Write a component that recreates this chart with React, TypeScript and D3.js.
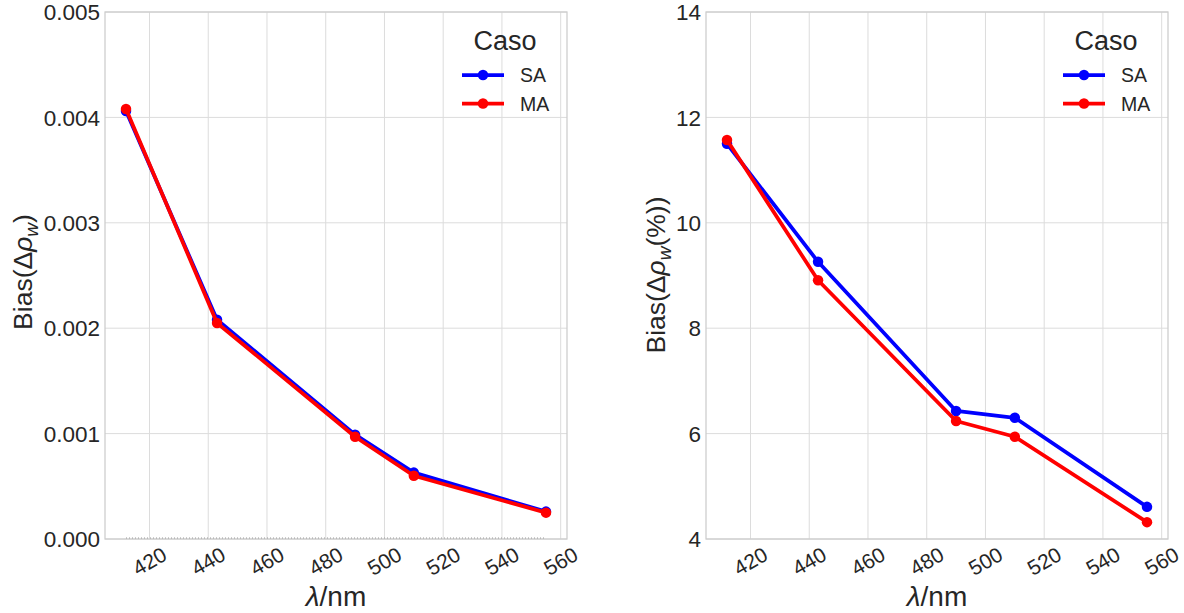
import React from "react";
import * as d3 from "d3";

const wavelengths = [412, 443, 490, 510, 555];
const biasSA = [0.00406, 0.00208, 0.00099, 0.00063, 0.00026];
const biasMA = [0.00408, 0.00205, 0.00097, 0.0006, 0.00025];
const pctSA = [11.5, 9.26, 6.43, 6.3, 4.61];
const pctMA = [11.57, 8.91, 6.24, 5.94, 4.32];
const xTicks = [420, 440, 460, 480, 500, 520, 540, 560];
const yTicksLeft = [0, 0.001, 0.002, 0.003, 0.004, 0.005];
const yTicksRight = [4, 6, 8, 10, 12, 14];
const seriesNames = ["SA", "MA"];
const seriesColors = ["#0000ff", "#ff0000"];

const FONT = "'Liberation Sans', Arial, sans-serif";
const TXT = "#262626";
const GRID = "#dcdcdc";
const SPINE = "#cccccc";

type PanelProps = {
  x0: number;
  yDomain: [number, number];
  yTicks: number[];
  fmt: (v: number) => string;
  sa: number[];
  ma: number[];
  ylabel: React.ReactNode;
  ylabelX: number;
  ylabelY: number;
  zeroLine?: boolean;
};

function Panel({ x0, yDomain, yTicks, fmt, sa, ma, ylabel, ylabelX, ylabelY, zeroLine }: PanelProps) {
  const left = x0;
  const right = x0 + 462;
  const top = 12;
  const bottom = 539;
  const xMin = d3.min(wavelengths)!;
  const xMax = d3.max(wavelengths)!;
  const pad = (xMax - xMin) * 0.05;
  const x = d3.scaleLinear().domain([xMin - pad, xMax + pad]).range([left, right]);
  const y = d3.scaleLinear().domain(yDomain).range([bottom, top]);
  const line = d3
    .line<number>()
    .x((_, i) => x(wavelengths[i]))
    .y((d) => y(d));
  const series = [sa, ma];
  const legX = right - 105;
  return (
    <g>
      {xTicks.map((t) => (
        <line key={"gx" + t} x1={x(t)} x2={x(t)} y1={top} y2={bottom} stroke={GRID} strokeWidth={1} />
      ))}
      {yTicks.map((t) => (
        <line key={"gy" + t} x1={left} x2={right} y1={y(t)} y2={y(t)} stroke={GRID} strokeWidth={1} />
      ))}
      <rect x={left} y={top} width={right - left} height={bottom - top} fill="none" stroke={SPINE} strokeWidth={1.25} />
      {zeroLine && (
        <line
          x1={x(xMin)}
          x2={x(xMax)}
          y1={y(0) - 1}
          y2={y(0) - 1}
          stroke="#999"
          strokeWidth={1}
          strokeDasharray="1,2"
        />
      )}
      {series.map((s, si) => (
        <g key={"s" + si}>
          <path d={line(s) || ""} fill="none" stroke={seriesColors[si]} strokeWidth={3.75} strokeLinejoin="round" />
          {s.map((v, i) => (
            <circle key={i} cx={x(wavelengths[i])} cy={y(v)} r={5.25} fill={seriesColors[si]} />
          ))}
        </g>
      ))}
      {yTicks.map((t) => (
        <text
          key={"ty" + t}
          x={left - 5}
          y={y(t)}
          dy="0.36em"
          textAnchor="end"
          fontSize={22.5}
          fill={TXT}
          fontFamily={FONT}
        >
          {fmt(t)}
        </text>
      ))}
      {xTicks.map((t) => (
        <text
          key={"tx" + t}
          transform={`translate(${x(t)},${561}) rotate(-30)`}
          dy="0.36em"
          textAnchor="middle"
          fontSize={21}
          fill={TXT}
          fontFamily={FONT}
        >
          {t}
        </text>
      ))}
      <text x={(left + right) / 2} y={606} textAnchor="middle" fontSize={28} fill={TXT} fontFamily={FONT}>
        <tspan fontStyle="italic">λ</tspan>/nm
      </text>
      <text
        transform={`translate(${ylabelX},${ylabelY}) rotate(-90)`}
        textAnchor="middle"
        fontSize={26.5}
        fill={TXT}
        fontFamily={FONT}
      >
        {ylabel}
      </text>
      <text x={legX + 43} y={50} textAnchor="middle" fontSize={27} fill={TXT} fontFamily={FONT}>
        Caso
      </text>
      {seriesNames.map((n, i) => {
        const ly = 75 + i * 28.5;
        return (
          <g key={n}>
            <line x1={legX} x2={legX + 42} y1={ly} y2={ly} stroke={seriesColors[i]} strokeWidth={3.75} />
            <circle cx={legX + 21} cy={ly} r={5.25} fill={seriesColors[i]} />
            <text x={legX + 58} y={ly} dy="0.36em" fontSize={19.5} fill={TXT} fontFamily={FONT}>
              {n}
            </text>
          </g>
        );
      })}
    </g>
  );
}

export default function App() {
  const fmtL = (v: number) => d3.format(".3f")(v);
  const fmtR = (v: number) => d3.format("d")(v);
  return (
    <svg
      width={1184}
      height={613}
      style={{ position: "absolute", left: 0, top: 0, background: "#fff" }}
    >
      <rect width={1184} height={613} fill="#fff" />
      <Panel
        x0={105}
        yDomain={[0, 0.005]}
        yTicks={yTicksLeft}
        fmt={fmtL}
        sa={biasSA}
        ma={biasMA}
        ylabelX={32}
        ylabelY={272}
        zeroLine
        ylabel={
          <>
            Bias(Δ<tspan fontStyle="italic">ρ</tspan>
            <tspan fontStyle="italic" fontSize={19} dy={6}>
              w
            </tspan>
            <tspan dy={-6}>)</tspan>
          </>
        }
      />
      <Panel
        x0={706}
        yDomain={[4, 14]}
        yTicks={yTicksRight}
        fmt={fmtR}
        sa={pctSA}
        ma={pctMA}
        ylabelX={665}
        ylabelY={275}
        ylabel={
          <>
            Bias(Δ<tspan fontStyle="italic">ρ</tspan>
            <tspan fontStyle="italic" fontSize={19} dy={6}>
              w
            </tspan>
            <tspan dy={-6}>(%))</tspan>
          </>
        }
      />
    </svg>
  );
}
